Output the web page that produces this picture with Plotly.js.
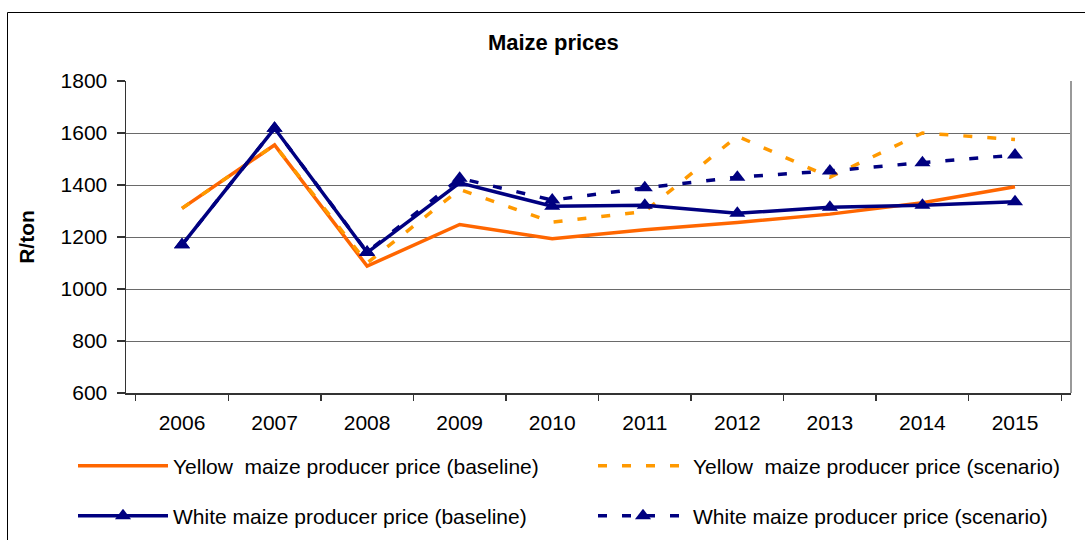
<!DOCTYPE html>
<html>
<head>
<meta charset="utf-8">
<script src="https://cdn.plot.ly/plotly-3.0.1.min.js"></script>
<style>
  html, body { margin: 0; padding: 0; background: #fff; }
  #chart { width: 1085px; height: 540px; }
</style>
</head>
<body>
<div id="chart"></div>
<script>
// ---- data ----
var years = ['2006', '2007', '2008', '2009', '2010', '2011', '2012', '2013', '2014', '2015'];
var yellowBaseline = [1310, 1554, 1088, 1248, 1193, 1228, 1256, 1288, 1332, 1393];
var yellowScenario = [1310, 1554, 1100, 1383, 1257, 1298, 1588, 1430, 1600, 1575];
var whiteBaseline  = [1170, 1618, 1140, 1408, 1318, 1322, 1291, 1314, 1322, 1336];
var whiteScenario  = [1170, 1618, 1142, 1426, 1342, 1389, 1430, 1454, 1486, 1515];
var yTicks = [600, 800, 1000, 1200, 1400, 1600, 1800];

var FONT = 'Liberation Sans, Arial, sans-serif';
var ORANGE = '#FF6600';
var AMBER = '#FF9900';
var NAVY = '#000080';

var traces = [
  { x: years, y: yellowBaseline, type: 'scatter', mode: 'lines',
    name: 'Yellow  maize producer price (baseline)', legend: 'legend',
    line: { color: ORANGE, width: 3.5 } },
  { x: years, y: yellowScenario, type: 'scatter', mode: 'lines',
    name: 'Yellow  maize producer price (scenario)', legend: 'legend2',
    line: { color: AMBER, width: 3.5, dash: '9px,15px' } },
  { x: years, y: whiteBaseline, type: 'scatter', mode: 'lines+markers',
    name: 'White maize producer price (baseline)', legend: 'legend3',
    line: { color: NAVY, width: 3.5 },
    marker: { symbol: 'triangle-up', size: 14, color: NAVY } },
  { x: years, y: whiteScenario, type: 'scatter', mode: 'lines+markers',
    name: 'White maize producer price (scenario)', legend: 'legend4',
    line: { color: NAVY, width: 3.5, dash: '9px,15px' },
    marker: { symbol: 'triangle-up', size: 14, color: NAVY } }
];

// Paper spans x 126..1085 (959 px) and y 81..393 (312 px); the x axis domain ends at 1071.
var PW = 959, PH = 312;
var ITEMW = 90;
function legendAt(textX, py) {
  return {
    orientation: 'v', xref: 'paper', yref: 'paper',
    x: (textX - ITEMW - 12 - 126) / PW, y: (393 - py) / PH,
    xanchor: 'left', yanchor: 'middle',
    itemwidth: ITEMW,
    font: { family: FONT, size: 21, color: '#000' },
    bgcolor: 'rgba(0,0,0,0)', borderwidth: 0
  };
}

var layout = {
  width: 1085, height: 540,
  margin: { l: 126, r: 0, t: 81, b: 147, pad: 0 },
  paper_bgcolor: '#fff', plot_bgcolor: '#fff',
  font: { family: FONT, size: 21, color: '#000' },
  title: { text: 'Maize prices', font: { family: FONT, size: 22, color: '#000', weight: 'bold' },
           xref: 'container', yref: 'container', x: 0.51, xanchor: 'center', y: 1 - 42 / 540, yanchor: 'middle' },
  xaxis: {
    type: 'category', tickvals: years, ticktext: years,
    domain: [0, 945 / PW],
    showgrid: false, zeroline: false,
    showline: true, linecolor: '#333', linewidth: 1.5,
    ticks: 'outside', tickson: 'boundaries', ticklen: 6, tickcolor: '#333', tickwidth: 1.5,
    ticklabelstandoff: 10,
    tickfont: { family: FONT, size: 21, color: '#000' },
    automargin: false,
    fixedrange: true
  },
  yaxis: {
    range: [600, 1800], tickvals: yTicks, ticktext: yTicks.map(String),
    showgrid: true, gridcolor: '#6a6a6a', gridwidth: 1,
    zeroline: false,
    showline: true, linecolor: '#333', linewidth: 1.5,
    ticks: 'outside', ticklen: 8, tickcolor: '#333', tickwidth: 1.5,
    ticklabelstandoff: 5,
    tickfont: { family: FONT, size: 21, color: '#000' },
    title: { text: 'R/ton', font: { family: FONT, size: 21, color: '#000', weight: 'bold' }, standoff: 20 },
    automargin: false,
    fixedrange: true
  },
  showlegend: true,
  legend:  legendAt(175, 466),
  legend2: legendAt(695, 466),
  legend3: legendAt(175, 516),
  legend4: legendAt(695, 516),
  shapes: [
    // plot-area border on the right
    { type: 'line', xref: 'x domain', yref: 'y domain', x0: 1, x1: 1, y0: 0, y1: 1,
      line: { color: '#999', width: 2 } },
    // outer chart frame
    { type: 'rect', xref: 'paper', yref: 'paper',
      x0: (7.5 - 126) / PW, x1: (1095 - 126) / PW,
      y0: (393 - 560) / PH, y1: (393 - 12.5) / PH,
      line: { color: '#000', width: 1 }, fillcolor: 'rgba(0,0,0,0)', layer: 'below' }
  ]
};

Plotly.newPlot('chart', traces, layout, { displayModeBar: false, staticPlot: true });
</script>
</body>
</html>
